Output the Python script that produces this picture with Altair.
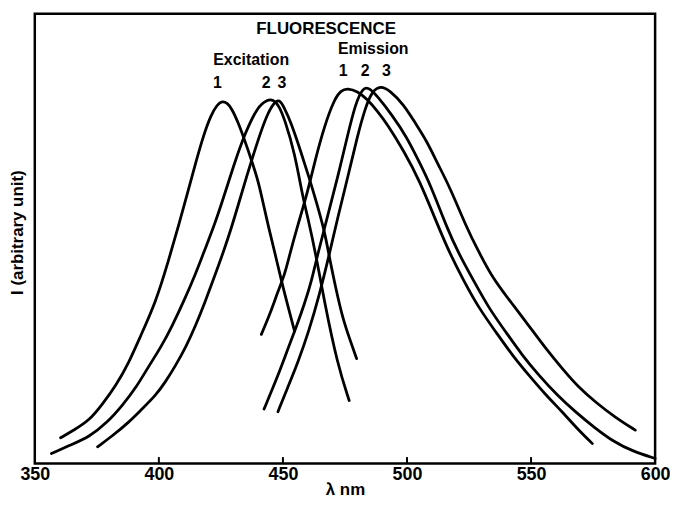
import altair as alt
import pandas as pd

# ---- data (wavelength nm, intensity in % of frame height) ----
ex1_nm = [360.4, 366, 372, 377, 382.7, 388, 392, 398.7, 404, 408, 411.5, 414.7, 418, 421, 423.5,
          425.5, 427.5, 429.3, 432, 434.7, 437.3, 440, 442, 444, 446.7, 449.3, 452, 454.7]
ex1_i = [5.7, 7.5, 9.6, 13, 17.3, 22.5, 27.6, 35.7, 45.3, 53, 60, 66.6, 73, 77.5, 79.8,
         80.6, 80.2, 79, 75.8, 71.7, 67.5, 62.9, 58, 53, 47, 40.8, 35, 29.4]

ex2_nm = [356.7, 364, 372, 379, 385.3, 391, 396, 401, 405.3, 410, 414.7, 418.5, 422.7, 426, 430,
          434.7, 440, 443.5, 446, 448.5, 450.7, 454.7, 458, 460, 463.3, 466.7, 472, 476.7]
ex2_i = [2.2, 4, 5.9, 9, 12.9, 17, 21.7, 26, 30.5, 36, 42, 47.5, 53.5, 59, 66,
         73.5, 79.5, 80.8, 81, 79.5, 76.5, 69.2, 59.2, 54.8, 46.4, 36, 22, 14]

ex3_nm = [375.3, 381, 388, 393, 398.7, 402.5, 406.7, 411, 414.7, 418.7, 422.7, 426, 429.3, 432, 436,
          440, 443.5, 446.5, 448.5, 450.5, 453.3, 457.3, 460.7, 462.7, 466.7, 469, 471.5, 474, 477, 479.7]
ex3_i = [3.7, 6, 9.2, 12, 15.1, 18, 21.7, 26, 30.5, 36, 42, 47, 52.5, 57.5, 65,
         72, 77.5, 80.3, 81, 79.2, 75.8, 69.2, 63.3, 59.6, 52, 45, 38.5, 32.5, 27.5, 23.3]

em1_nm = [441.3, 445, 448, 450.7, 452.7, 456, 460, 463, 466.7, 470.7, 473.5, 476, 480, 484, 488,
          492, 498.7, 505, 512, 517, 522.7, 529, 536, 542.5, 549.3, 556, 562.7, 568.5, 574.7]
em1_i = [28.7, 33.5, 38.3, 42, 46.4, 53, 60.5, 67.5, 75, 81, 83, 83.4, 82.8, 81, 78.4,
         75.5, 69.5, 63, 53.5, 47, 40.8, 34.5, 29.1, 24, 19.5, 15.2, 11.4, 7.8, 4.4]

em2_nm = [442.4, 448, 452, 455.5, 458.7, 461.5, 464, 468, 472, 476, 479.3, 482.5, 485, 488, 494,
          500, 504.5, 509.3, 516, 521, 526.7, 533, 540, 546.5, 553.3, 560.5, 568, 575.5, 583.3, 591, 600]
em2_i = [12.1, 19.5, 25.5, 30.5, 35.5, 40.5, 46.5, 55, 63.5, 72.8, 80.2, 83.8, 83.4, 81.7, 77.5,
         72.5, 67.5, 62.2, 52.5, 46.5, 40.8, 34.5, 29.1, 24, 19.5, 15.2, 11.4, 8, 4.8, 2.7, 1.1]

em3_nm = [448, 452, 456, 460.5, 464.7, 468.7, 472, 476, 480, 483.3, 486, 489.3, 493, 498.7, 503,
          508, 512.5, 517.3, 524, 528.5, 534.7, 542, 549.3, 556, 562.7, 569, 576, 584, 592]
em3_i = [11.5, 17, 22.4, 29.5, 37.5, 46.5, 54.5, 63.3, 72.8, 79.3, 82.8, 84, 83, 79.8, 76,
         71.7, 66.5, 61.4, 52.5, 47.5, 41, 35.8, 30.5, 25.5, 21, 17, 13.6, 10.2, 7.4]

series_names = ["Excitation 1", "Excitation 2", "Excitation 3",
                "Emission 1", "Emission 2", "Emission 3"]
series_x = [ex1_nm, ex2_nm, ex3_nm, em1_nm, em2_nm, em3_nm]
series_y = [ex1_i, ex2_i, ex3_i, em1_i, em2_i, em3_i]

tick_values = [350, 400, 450, 500, 550, 600]
inner_ticks = [400, 450, 500, 550]

title_text = ["FLUORESCENCE"]
title_nm = [467.4]
title_i = [96.7]

group_text = ["Excitation", "Emission"]
group_nm = [437.2, 486.4]
group_i = [89.8, 92.1]

num_text = ["1", "2", "3", "1", "2", "3"]
num_nm = [423.6, 443.2, 449.6, 474.3, 483.1, 491.7]
num_i = [84.5, 84.5, 84.5, 87.2, 87.2, 87.2]

# ---- tables ----
rows = []
for name, xs, ys in zip(series_names, series_x, series_y):
    for k, (xv, yv) in enumerate(zip(xs, ys)):
        rows.append({"series": name, "nm": xv, "I": yv, "k": k})
df = pd.DataFrame(rows)

ticks_df = pd.DataFrame({"nm": inner_ticks, "I": [0] * len(inner_ticks),
                         "I2": [1.4] * len(inner_ticks)})
title_df = pd.DataFrame({"nm": title_nm, "I": title_i, "label": title_text})
group_df = pd.DataFrame({"nm": group_nm, "I": group_i, "label": group_text})
num_df = pd.DataFrame({"nm": num_nm, "I": num_i, "label": num_text})

FONT = "Liberation Sans"
xscale = alt.Scale(domain=[350, 600], nice=False, zero=False)
yscale = alt.Scale(domain=[0, 100], nice=False, zero=False)

x_enc = alt.X("nm:Q", scale=xscale,
              axis=alt.Axis(values=tick_values, title="λ nm", ticks=False, tickSize=0,
                            domain=False, grid=False, labelFlush=False, labelPadding=11,
                            labelBaseline="middle", labelFont=FONT, labelFontSize=18,
                            labelFontWeight="bold", labelColor="black",
                            titleFont=FONT, titleFontSize=17, titleFontWeight="bold",
                            titleColor="black", titleY=26, titleBaseline="middle"))
y_enc = alt.Y("I:Q", scale=yscale,
              axis=alt.Axis(title="I (arbitrary unit)", labels=False, ticks=False,
                            domain=False, grid=False, titleFont=FONT, titleFontSize=17,
                            titleFontWeight="bold", titleColor="black", titleX=-17,
                            titleY=220, titleAngle=270, titleAlign="center",
                            titleBaseline="middle"))

lines = alt.Chart(df).mark_line(color="black", strokeWidth=2.8, interpolate="basis",
                                strokeCap="round").encode(
    x=x_enc, y=y_enc, detail="series:N", order="k:Q")

ticks = alt.Chart(ticks_df).mark_rule(color="black", strokeWidth=2).encode(
    x=alt.X("nm:Q", scale=xscale), y=alt.Y("I:Q", scale=yscale), y2="I2:Q")

title_layer = alt.Chart(title_df).mark_text(font=FONT, fontSize=17, fontWeight="bold",
                                            color="black", baseline="middle").encode(
    x="nm:Q", y="I:Q", text="label:N")
group_layer = alt.Chart(group_df).mark_text(font=FONT, fontSize=16, fontWeight="bold",
                                            color="black", baseline="middle").encode(
    x="nm:Q", y="I:Q", text="label:N")
num_layer = alt.Chart(num_df).mark_text(font=FONT, fontSize=16, fontWeight="bold",
                                        color="black", baseline="middle").encode(
    x="nm:Q", y="I:Q", text="label:N")

chart = alt.layer(lines, ticks, title_layer, group_layer, num_layer).properties(
    width=625, height=453, autosize=alt.AutoSizeParams(type="none"),
    padding={"left": 27, "top": 4, "right": 15, "bottom": 33},
    background="white",
).configure_view(stroke="black", strokeWidth=2.5)

chart.save("out.html", embed_options={"renderer": "svg", "actions": False})
